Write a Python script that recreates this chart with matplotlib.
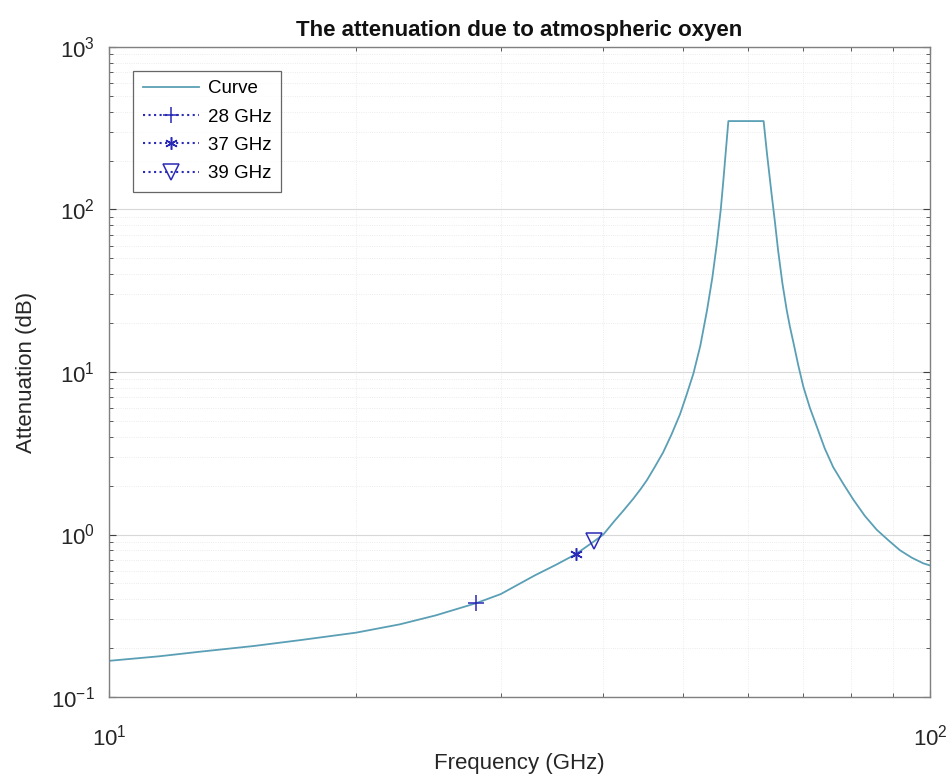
import matplotlib
matplotlib.use("Agg")
import matplotlib.pyplot as plt
from matplotlib.ticker import NullFormatter, LogFormatterSciNotation

plt.rcParams["font.family"] = ["Liberation Sans", "DejaVu Sans"]

# ── 曲线数据──
freq = [10, 11.5, 12.9, 15, 17.1, 20, 22.6, 25, 28, 30, 33, 35, 37, 39, 40,
        41.2, 42.3, 43.5, 44.4, 45.2, 46.2, 47.3, 48.4, 49.6, 50.5, 51.5,
        52.5, 53.5, 54.3, 55, 55.6, 56, 56.4, 56.8,
        62.7, 63.3, 64.1, 64.7, 65.3, 66.1, 66.9, 67.5, 68.2, 69.1, 70.1,
        71.4, 72.8, 74.4, 76.2, 78.4, 80.7, 83.3, 86.1, 89, 91.9, 95, 98.1, 100]
atten = [0.167, 0.178, 0.19, 0.206, 0.224, 0.249, 0.28, 0.318, 0.378, 0.43,
         0.56, 0.65, 0.755, 0.91, 1.0,
         1.2, 1.4, 1.66, 1.9, 2.16, 2.6, 3.2, 4.1, 5.5, 7.2, 9.8,
         14.5, 24, 38, 62, 100, 150, 230, 350,
         350, 220, 126, 85, 56, 35, 24, 19, 15, 11, 8.1,
         6.0, 4.6, 3.4, 2.6, 2.05, 1.63, 1.3, 1.07, 0.92, 0.80, 0.72, 0.665, 0.645]

# ── 标记点 ──
mark_freq = [28, 37, 39]
mark_att = [0.378, 0.755, 0.91]
mark_style = ["+", (6, 2, 0), "v"]
mark_size = [11, 9, 11]
mark_label = ["28 GHz", "37 GHz", "39 GHz"]

fig = plt.figure(figsize=(9.51, 7.83), dpi=100)
ax = fig.add_axes([0.1146, 0.1098, 0.8634, 0.8302])

ax.plot(freq, atten, color="#5a9fb5", linewidth=1.3, label="Curve")
for f, a, m, ms, lab in zip(mark_freq, mark_att, mark_style, mark_size, mark_label):
    ax.plot([f], [a], linestyle=":", color="#2a2ab8", marker=m,
            markersize=ms,
            markerfacecolor="none",
            markeredgewidth=1.1, label=lab)

ax.set_xscale("log")
ax.set_yscale("log")
ax.set_xlim(10, 100)
ax.set_ylim(0.1, 1000)
ax.xaxis.set_major_formatter(LogFormatterSciNotation())
ax.xaxis.set_minor_formatter(NullFormatter())
ax.yaxis.set_minor_formatter(NullFormatter())

ax.grid(True, which="major", color="#d8d8d8", linewidth=0.8)
ax.grid(True, which="minor", color="#e6e6e6", linewidth=0.6, linestyle=":")
ax.set_axisbelow(True)

for s in ax.spines.values():
    s.set_color("#808080")
    s.set_linewidth(1.0)
ax.tick_params(which="both", direction="in", top=True, right=True,
               colors="#404040", labelsize=16, labelcolor="#262626")
ax.tick_params(which="major", length=5)
ax.tick_params(which="minor", length=3)
ax.tick_params(axis="x", which="major", pad=20)
ax.tick_params(axis="y", which="major", pad=10)

ax.set_xlabel("Frequency (GHz)", fontsize=16, color="#262626", labelpad=2)
ax.set_ylabel("Attenuation (dB)", fontsize=16, color="#262626", labelpad=10)
ax.set_title("The attenuation due to atmospheric oxyen", fontsize=16,
             fontweight="bold", color="#111111", pad=8)

leg = ax.legend(loc="upper left", fontsize=13.5, frameon=True, fancybox=False,
                edgecolor="#404040", handlelength=3.0, borderpad=0.5,
                labelspacing=0.6, handletextpad=0.5,
                bbox_to_anchor=(0.018, 0.978))
leg.get_frame().set_linewidth(0.9)

fig.savefig("out.png", dpi=100)
